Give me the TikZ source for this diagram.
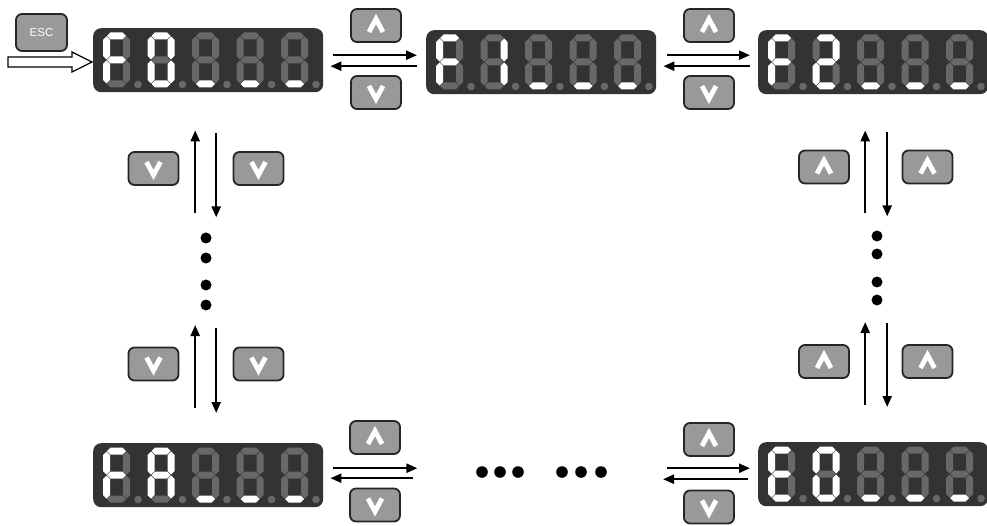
\documentclass[tikz,border=0pt]{standalone}
\usepackage{fontspec}
\setmainfont{Liberation Sans}
\usetikzlibrary{arrows.meta,calc}
\definecolor{dispbg}{HTML}{333333}
\definecolor{segoff}{HTML}{686868}
\definecolor{btnfill}{HTML}{999999}
\definecolor{btnline}{HTML}{262626}
\tikzset{
 s1/.style={fill=white}, s0/.style={fill=segoff},
 disp/.style={rectangle, rounded corners=8pt, fill=dispbg, minimum width=230pt, minimum height=64pt, inner sep=0pt, anchor=north west},
 btn/.style={rectangle, rounded corners=6pt, fill=btnfill, draw=btnline, line width=1.8pt, minimum width=50pt, minimum height=33pt, inner sep=0pt},
 chev/.style={draw=white, line width=4.8pt, line join=miter},
 arr/.style={line width=2.2pt, -{Triangle[length=11pt,width=9pt]}},
 blackdot/.style={fill=black},
}
\def\dig(#1,#2)#3#4#5#6#7#8#9{%
 \begin{scope}[shift={(#1,#2)}]
 \fill[s#3] (4,3.5)--(7.5,0)--(19.5,0)--(23,3.5)--(19.5,7)--(7.5,7)--cycle;
 \fill[s#4] (23.5,4)--(27,7.5)--(27,23.5)--(23.5,27)--(20,23.5)--(20,7.5)--cycle;
 \fill[s#5] (23.5,28)--(27,31.5)--(27,47.5)--(23.5,51)--(20,47.5)--(20,31.5)--cycle;
 \fill[s#6] (4,51.5)--(7.5,48)--(19.5,48)--(23,51.5)--(19.5,55)--(7.5,55)--cycle;
 \fill[s#7] (3.5,28)--(7,31.5)--(7,47.5)--(3.5,51)--(0,47.5)--(0,31.5)--cycle;
 \fill[s#8] (3.5,4)--(7,7.5)--(7,23.5)--(3.5,27)--(0,23.5)--(0,7.5)--cycle;
 \fill[s#9] (4,27.5)--(7.5,24)--(19.5,24)--(23,27.5)--(19.5,31)--(7.5,31)--cycle;
 \fill[segoff] (35,52) circle (3.8pt);
 \end{scope}}
\newcommand\display[8]{%
 \node[disp] (#1) at (#2,#3) {};
 \dig(#2+10,#3+4.5)#4
 \dig(#2+54.5,#3+4.5)#5
 \dig(#2+99,#3+4.5)#6
 \dig(#2+143.5,#3+4.5)#7
 \dig(#2+188,#3+4.5)#8
}
\newcommand\upchev[1]{\draw[chev] ([shift={(-7,6.5)}]#1.center) -- ([shift={(0,-6.5)}]#1.center) -- ([shift={(7,6.5)}]#1.center);}
\newcommand\dnchev[1]{\draw[chev] ([shift={(-7,-6.5)}]#1.center) -- ([shift={(0,6.5)}]#1.center) -- ([shift={(7,-6.5)}]#1.center);}
\begin{document}
\begin{tikzpicture}[x=1pt,y=-1pt]
\useasboundingbox (0,0) rectangle (987,526);
\clip (0,0) rectangle (987,526);
% displays
\display{F0}{93}{28}{1000111}{1111110}{0001000}{0001000}{0001000}
\display{F1}{426}{30}{1000111}{0110000}{0001000}{0001000}{0001000}
\display{F2}{758}{30}{1000111}{1101101}{0001000}{0001000}{0001000}
\display{FA}{93}{443}{1000111}{1110111}{0001000}{0001000}{0001000}
\display{E0}{758}{442}{1001111}{1111110}{0001000}{0001000}{0001000}
% ESC button and entry arrow
\node[btn, minimum width=51pt, minimum height=37pt] (esc) at (41.5,32.5) {\fontsize{11.5}{11.5}\selectfont\color{white}ESC};
\draw[line width=1.2pt, fill=white] (8,57) -- (72,57) -- (72,52) -- (92,62) -- (72,72) -- (72,67) -- (8,67) -- cycle;
% buttons
\node[btn] (u1) at (376,25.5) {}; \upchev{u1}
\node[btn] (d1) at (376,92.5) {}; \dnchev{d1}
\node[btn] (u2) at (709,25.5) {}; \upchev{u2}
\node[btn] (d2) at (709,92.5) {}; \dnchev{d2}
\node[btn] (u3) at (375,437.5) {}; \upchev{u3}
\node[btn] (d3) at (375,505) {}; \dnchev{d3}
\node[btn] (u4) at (709,439.5) {}; \upchev{u4}
\node[btn] (d4) at (709,507) {}; \dnchev{d4}
\node[btn] (lv1) at (153.5,168.5) {}; \dnchev{lv1}
\node[btn] (lv2) at (258.5,168.5) {}; \dnchev{lv2}
\node[btn] (lv3) at (153.5,364) {}; \dnchev{lv3}
\node[btn] (lv4) at (258.5,364) {}; \dnchev{lv4}
\node[btn] (ru1) at (824,167) {}; \upchev{ru1}
\node[btn] (ru2) at (927.5,167) {}; \upchev{ru2}
\node[btn] (ru3) at (824,361.5) {}; \upchev{ru3}
\node[btn] (ru4) at (927.5,361.5) {}; \upchev{ru4}
% horizontal arrows
\draw[arr] ($(F0.east)+(10,-5)$) -- ($(F1.west)+(-9,-7)$);
\draw[arr] ($(F1.west)+(-9,4)$) -- ($(F0.east)+(7,6)$);
\draw[arr] ($(F1.east)+(11,-7)$) -- ($(F2.west)+(-8,-7)$);
\draw[arr] ($(F2.west)+(-8,4)$) -- ($(F1.east)+(7,4)$);
\draw[arr] ($(FA.east)+(10,-7)$) -- ($(FA.east)+(94,-7)$);
\draw[arr] ($(FA.east)+(90,3)$) -- ($(FA.east)+(7,3)$);
\draw[arr] ($(E0.west)+(-91,-6)$) -- ($(E0.west)+(-8,-6)$);
\draw[arr] ($(E0.west)+(-10,5)$) -- ($(E0.west)+(-95,5)$);
% vertical arrows
\draw[arr] ($(F0.south)+(-13,121)$) -- ($(F0.south)+(-13,38)$);
\draw[arr] ($(F0.south)+(8,41)$) -- ($(F0.south)+(8,125)$);
\draw[arr] ($(FA.north)+(-13,-35)$) -- ($(FA.north)+(-13,-118)$);
\draw[arr] ($(FA.north)+(8,-115)$) -- ($(FA.north)+(8,-30)$);
\draw[arr] ($(F2.south)+(-8,119)$) -- ($(F2.south)+(-8,36)$);
\draw[arr] ($(F2.south)+(14,38)$) -- ($(F2.south)+(14,122)$);
\draw[arr] ($(E0.north)+(-8,-37)$) -- ($(E0.north)+(-8,-120)$);
\draw[arr] ($(E0.north)+(14,-119)$) -- ($(E0.north)+(14,-35)$);
% ellipsis dots
\foreach \yy in {238,258,285,305} \fill[blackdot] (206,\yy) circle (5.5pt);
\foreach \yy in {236,254,282,300} \fill[blackdot] (877,\yy) circle (5.5pt);
\foreach \xx in {482,500,518,562,581,601} \fill[blackdot] (\xx,472) circle (5.8pt);
\end{tikzpicture}
\end{document}
